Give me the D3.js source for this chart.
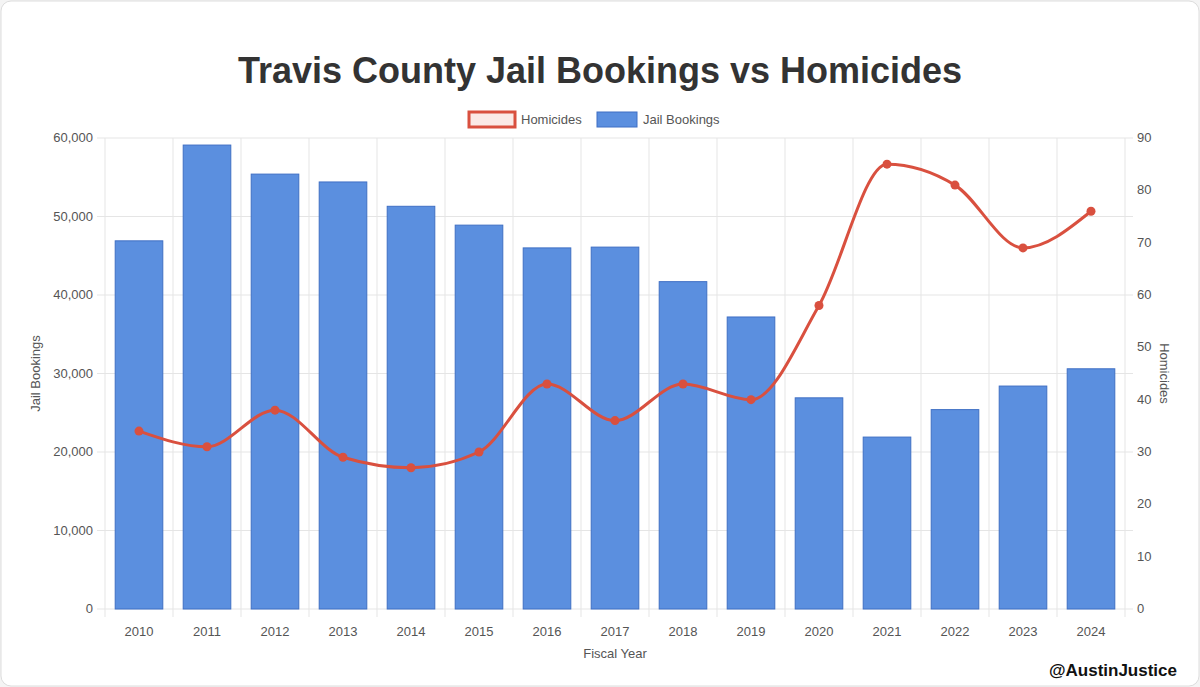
<!DOCTYPE html>
<html><head><meta charset="utf-8">
<script src="https://cdn.jsdelivr.net/npm/d3@7"></script>
<style>
body{margin:0;background:#f4f4f4;font-family:"Helvetica Neue",Arial,"Liberation Sans",sans-serif;}
svg{display:block}
</style></head>
<body><svg id="chart" width="1200" height="687"></svg>
<script>
// values
var years = ['2010','2011','2012','2013','2014','2015','2016','2017','2018','2019','2020','2021','2022','2023','2024'];
var bookings = [46900, 59100, 55400, 54400, 51300, 48900, 46000, 46100, 41700, 37200, 26900, 21900, 25400, 28400, 30600];
var homicides = [34, 31, 38, 29, 27, 30, 43, 36, 43, 40, 58, 85, 81, 69, 76];
var leftTicks = [0, 10000, 20000, 30000, 40000, 50000, 60000];
var rightTicks = [0, 10, 20, 30, 40, 50, 60, 70, 80, 90];

var svg = d3.select('#chart');
svg.append('rect').attr('x', 1).attr('y', 1).attr('width', 1198).attr('height', 685)
	.attr('rx', 10).attr('fill', '#fff').attr('stroke', '#ddd');

var pLeft = 105, pRight = 1125, pTop = 138, pBottom = 609;
var x = d3.scaleBand().domain(years).range([pLeft, pRight]);
var yL = d3.scaleLinear().domain([0, 60000]).range([pBottom, pTop]);
var yR = d3.scaleLinear().domain([0, 90]).range([pBottom, pTop]);

// grid
var g = svg.append('g');
g.selectAll('.h').data(leftTicks).enter().append('line')
	.attr('x1', pLeft - 8).attr('x2', pRight + 8)
	.attr('y1', d => yL(d)).attr('y2', d => yL(d))
	.attr('stroke', '#e5e5e5');
g.selectAll('.v').data(years.concat(['end'])).enter().append('line')
	.attr('x1', (d, i) => pLeft + i * x.bandwidth()).attr('x2', (d, i) => pLeft + i * x.bandwidth())
	.attr('y1', pTop).attr('y2', pBottom + 8)
	.attr('stroke', '#e5e5e5');

// bars
svg.selectAll('.bar').data(bookings).enter().append('rect')
	.attr('x', (d, i) => x(years[i]) + x.bandwidth() * 0.15)
	.attr('width', x.bandwidth() * 0.7)
	.attr('y', d => yL(d))
	.attr('height', d => pBottom - yL(d))
	.attr('fill', '#5b8fdf').attr('stroke', '#3f6fc4').attr('stroke-width', 1);

// line
var line = d3.line()
	.x((d, i) => x(years[i]) + x.bandwidth() / 2)
	.y(d => yR(d))
	.curve(d3.curveMonotoneX);
svg.append('path').attr('d', line(homicides))
	.attr('fill', 'none').attr('stroke', '#d9503f').attr('stroke-width', 3);
svg.selectAll('.pt').data(homicides).enter().append('circle')
	.attr('cx', (d, i) => x(years[i]) + x.bandwidth() / 2)
	.attr('cy', d => yR(d)).attr('r', 4.5).attr('fill', '#d9503f');

// tick labels
var fmt = d3.format(',');
svg.selectAll('.lt').data(leftTicks).enter().append('text')
	.attr('x', pLeft - 12).attr('y', d => yL(d) + 4).attr('text-anchor', 'end')
	.attr('font-size', 13).attr('fill', '#555').text(d => fmt(d));
svg.selectAll('.rt').data(rightTicks).enter().append('text')
	.attr('x', pRight + 12).attr('y', d => yR(d) + 4)
	.attr('font-size', 13).attr('fill', '#555').text(d => d);
svg.selectAll('.xt').data(years).enter().append('text')
	.attr('x', d => x(d) + x.bandwidth() / 2).attr('y', pBottom + 27).attr('text-anchor', 'middle')
	.attr('font-size', 13).attr('fill', '#555').text(d => d);

// axis titles
svg.append('text').attr('x', (pLeft + pRight) / 2).attr('y', 658).attr('text-anchor', 'middle')
	.attr('font-size', 13).attr('fill', '#555').text('Fiscal Year');
svg.append('text').attr('transform', 'translate(40,' + (pTop + pBottom) / 2 + ') rotate(-90)')
	.attr('text-anchor', 'middle').attr('font-size', 13).attr('fill', '#555').text('Jail Bookings');
svg.append('text').attr('transform', 'translate(1160,' + (pTop + pBottom) / 2 + ') rotate(90)')
	.attr('text-anchor', 'middle').attr('font-size', 13).attr('fill', '#555').text('Homicides');

// title
svg.append('text').attr('x', 600).attr('y', 83).attr('text-anchor', 'middle')
	.attr('font-size', 36).attr('font-weight', 'bold').attr('fill', '#333')
	.text('Travis County Jail Bookings vs Homicides');

// legend
svg.append('rect').attr('x', 469).attr('y', 112).attr('width', 46).attr('height', 15)
	.attr('fill', '#fbe9e6').attr('stroke', '#d9503f').attr('stroke-width', 3);
svg.append('text').attr('x', 521).attr('y', 124).attr('font-size', 13).attr('fill', '#555').text('Homicides');
svg.append('rect').attr('x', 597).attr('y', 112).attr('width', 40).attr('height', 15)
	.attr('fill', '#5b8fdf').attr('stroke', '#3f6fc4');
svg.append('text').attr('x', 643).attr('y', 124).attr('font-size', 13).attr('fill', '#555').text('Jail Bookings');

svg.append('text').attr('x', 1177).attr('y', 676).attr('text-anchor', 'end')
	.attr('font-size', 17).attr('font-weight', 'bold').attr('fill', '#111').text('@AustinJustice');
</script>
</body></html>
